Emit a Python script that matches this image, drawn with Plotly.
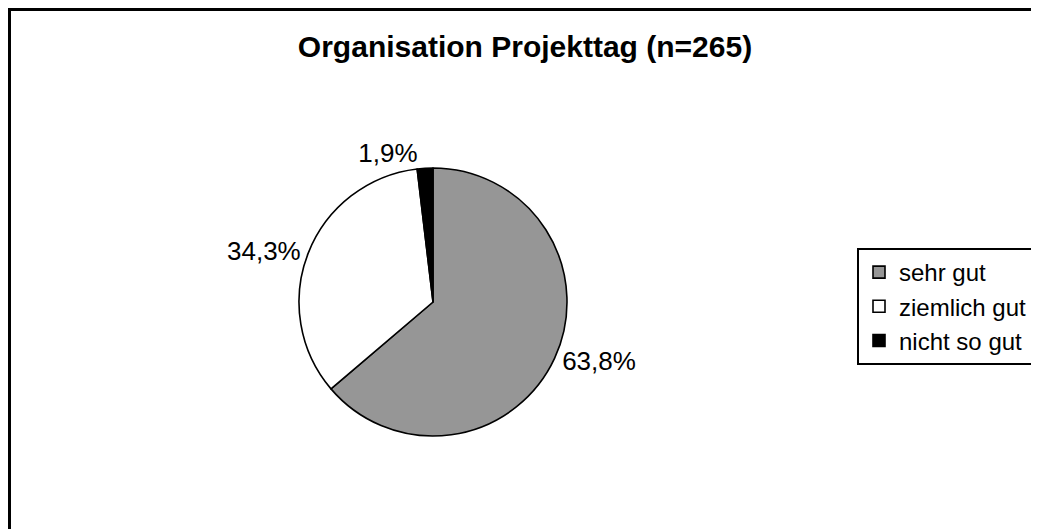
import plotly.graph_objects as go

categories = ["sehr gut", "ziemlich gut", "nicht so gut"]
counts = [169, 91, 5]
colors = ["#969696", "#ffffff", "#000000"]
title_text = "Organisation Projekttag (n=265)"

# page is shown with an 8px body margin -> figure size reduced to fit the 1039x529 window
OFF = 8
W, H = 1039 - OFF, 529 - OFF


def px(x):
    return (x - OFF) / W


def py(y):
    return 1 - (y - OFF) / H


cx, cy, r = 433, 302, 134

fig = go.Figure(go.Pie(
    labels=categories,
    values=counts,
    sort=False,
    direction="clockwise",
    rotation=0,
    marker=dict(colors=colors, line=dict(color="#000000", width=1.6)),
    textposition="outside",
    texttemplate="%{percent:.1%}",
    textfont=dict(family="Liberation Sans, Arial", size=26, color="#000000"),
    domain=dict(x=[px(cx - r), px(cx + r)], y=[py(cy + r), py(cy - r)]),
    hoverinfo="label+percent",
))

fig.update_layout(
    width=W, height=H,
    margin=dict(l=0, r=0, t=0, b=0),
    paper_bgcolor="#ffffff",
    separators=",.",
    title=dict(text="<b>" + title_text + "</b>", x=px(525), xanchor="center",
               y=py(46), yanchor="middle",
               font=dict(family="Liberation Sans, Arial", size=30, color="#000000")),
    legend=dict(x=px(857), xanchor="left", y=py(248), yanchor="top",
                bordercolor="#000000", borderwidth=2,
                font=dict(family="Liberation Sans, Arial", size=24, color="#000000"),
                itemwidth=30),
    shapes=[dict(type="rect", xref="paper", yref="paper",
                 x0=px(9.5), x1=1.2, y0=-0.2, y1=py(9.5),
                 line=dict(color="#000000", width=3))],
)

fig.write_html("out.html")
